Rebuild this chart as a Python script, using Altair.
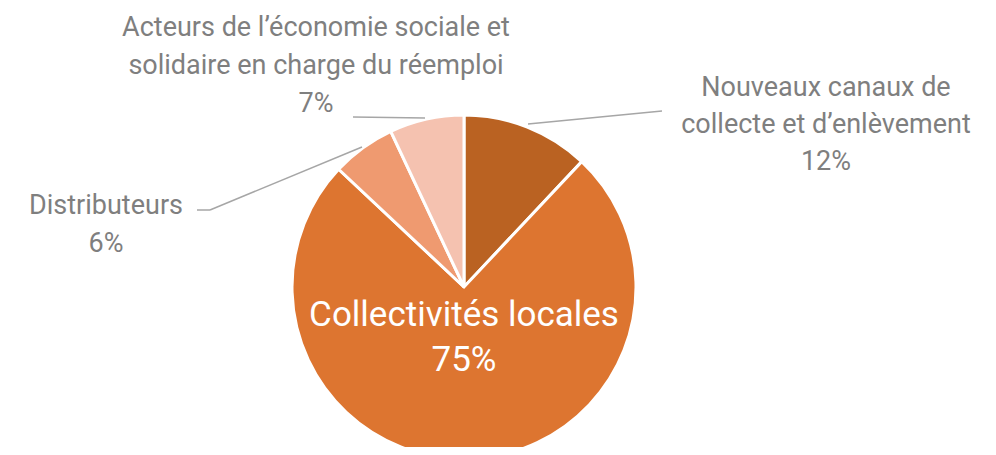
import altair as alt
import pandas as pd

# ---- data ----
categories = [
    "Nouveaux canaux de collecte et d’enlèvement",
    "Collectivités locales",
    "Distributeurs",
    "Acteurs de l’économie sociale et solidaire en charge du réemploi",
]
values = [12, 75, 6, 7]
label_lines = [
    ["Nouveaux canaux de", "collecte et d’enlèvement"],
    ["Collectivités locales"],
    ["Distributeurs"],
    ["Acteurs de l’économie sociale et", "solidaire en charge du réemploi"],
]
colors = ["#BA6222", "#DD7530", "#EF9A70", "#F5C2B0"]

# ---- layout (chart pixel coordinates) ----
CX, CY, R = 456, 279, 172
label_pos = [(818, 88), (456, 318), (98, 206), (308, 28)]
label_size = [27, 35, 27, 27]
label_color = ["#7F7F7F", "#FFFFFF", "#7F7F7F", "#7F7F7F"]
label_lh = [37, 45, 38, 38]
leaders = [  # x, y, x2, y2
    (520, 116, 654, 103),
    (345, 109, 417, 110),
    (189, 202, 202, 202),
    (202, 202, 354, 139),
]

df = pd.DataFrame({"cat": categories, "value": values, "idx": list(range(len(values)))})

pie = alt.Chart(df).mark_arc(outerRadius=R, stroke="white", strokeWidth=3).encode(
    theta=alt.Theta("value:Q", stack=True),
    color=alt.Color("cat:N", scale=alt.Scale(domain=categories, range=colors), legend=None),
    order=alt.Order("idx:Q"),
    x=alt.value(CX),
    y=alt.value(CY),
)

layers = [pie]
lead_df = pd.DataFrame(leaders, columns=["x", "y", "x2", "y2"])
layers.append(
    alt.Chart(lead_df).mark_rule(color="#A6A6A6", strokeWidth=1.5).encode(
        x=alt.X("x:Q", scale=None), y=alt.Y("y:Q", scale=None),
        x2="x2:Q", y2="y2:Q",
    )
)

for i, cat in enumerate(categories):
    text = "\n".join(label_lines[i] + [f"{values[i]}%"])
    tdf = pd.DataFrame({"t": [text], "lx": [label_pos[i][0]], "ly": [label_pos[i][1]]})
    layers.append(
        alt.Chart(tdf).mark_text(
            font="Roboto", fontSize=label_size[i], color=label_color[i],
            align="center", baseline="alphabetic", lineBreak="\n",
            lineHeight=label_lh[i], fontWeight="normal",
        ).encode(
            x=alt.X("lx:Q", scale=None), y=alt.Y("ly:Q", scale=None), text="t:N"
        )
    )

chart = alt.layer(*layers).properties(
    width=980, height=439, padding=0, autosize="none"
).configure_view(stroke=None)

chart.save("out.html", embed_options={"renderer": "svg", "actions": False})
